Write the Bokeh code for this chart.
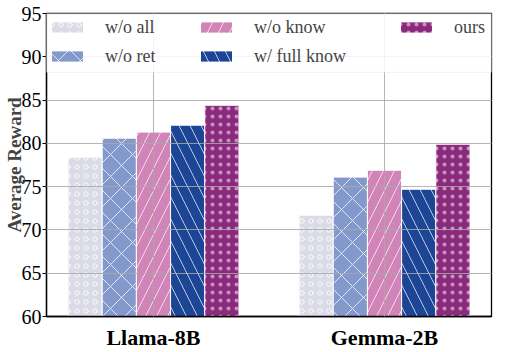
from bokeh.plotting import figure
from bokeh.models import ColumnDataSource, Legend, LegendItem, FixedTicker, BoxAnnotation
from bokeh.embed import file_html
from bokeh.resources import INLINE

categories = ["Llama-8B", "Gemma-2B"]
series = ["w/o all", "w/o ret", "w/o know", "w/ full know", "ours"]
wo_all = [78.4, 71.7]
wo_ret = [80.6, 76.1]
wo_know = [81.3, 76.9]
w_full_know = [82.1, 74.7]
ours = [84.4, 79.9]
y_ticks = [60, 65, 70, 75, 80, 85, 90, 95]

values = [wo_all, wo_ret, wo_know, w_full_know, ours]
colors = ["#dadbe7", "#8399cb", "#d184b8", "#1d4596", "#8b2a7d"]
hatches = ["ring", "diagonal_cross", "right_diagonal_line", "left_diagonal_line", "dot"]
hscales = [9, 22, 22, 22, 8]
halpha = [0.8, 0.75, 0.7, 0.7, 0.5]

FONT = "Liberation Serif"
p = figure(width=518, height=352, output_backend="svg", toolbar_location=None,
           x_range=(-0.463, 1.463), y_range=(60, 95),
           min_border_left=46, min_border_right=27, min_border_top=13, min_border_bottom=31)

bw = 0.148
renderers = []
for i, (name, vals) in enumerate(zip(series, values)):
    xs = [g + (i - 2) * bw for g in range(len(categories))]
    src = ColumnDataSource(dict(x=xs, top=vals))
    r = p.vbar(x="x", top="top", bottom=60, width=bw, source=src,
               fill_color=colors[i], line_color="white", line_width=1,
               hatch_pattern=hatches[i], hatch_color="white", hatch_alpha=halpha[i],
               hatch_scale=hscales[i], hatch_weight=1)
    renderers.append(r)

# grid drawn over the bars, under the legend
for g in (p.xgrid, p.ygrid):
    g.level = "guide"
    g.grid_line_color = "#a8a8a8"
    g.grid_line_alpha = 0.85
    g.grid_line_width = 1
p.xaxis.ticker = FixedTicker(ticks=[0, 1])
p.xaxis.major_label_overrides = {0: categories[0], 1: categories[1]}
p.xgrid.ticker = FixedTicker(ticks=[0, 1])
p.yaxis.ticker = FixedTicker(ticks=y_ticks)
p.ygrid.ticker = FixedTicker(ticks=y_ticks)

p.xaxis.major_label_text_font = FONT
p.xaxis.major_label_text_font_style = "bold"
p.xaxis.major_label_text_font_size = "22px"
p.xaxis.major_label_text_color = "black"
p.xaxis.major_tick_line_color = None
p.xaxis.minor_tick_line_color = None
p.xaxis.major_label_standoff = 2
p.xaxis.axis_line_color = "black"
p.xaxis.axis_line_width = 1.3

p.yaxis.major_label_text_font = FONT
p.yaxis.major_label_text_font_size = "20px"
p.yaxis.major_label_text_color = "black"
p.yaxis.minor_tick_line_color = None
p.yaxis.major_tick_in = 0
p.yaxis.major_tick_out = 4
p.yaxis.major_label_standoff = 1
p.yaxis.axis_line_color = "black"
p.yaxis.axis_line_width = 1.3
p.yaxis.axis_label = "Average Reward"
p.yaxis.axis_label_text_font = FONT
p.yaxis.axis_label_text_font_style = "bold"
p.yaxis.axis_label_text_font_size = "19px"
p.yaxis.axis_label_standoff = -6

p.outline_line_color = "black"
p.outline_line_width = 1.3
p.background_fill_color = "white"
p.border_fill_color = "white"

# legend frame
box = BoxAnnotation(left=-0.489, right=1.489, top=95.12, bottom=88.2,
                    fill_color="white", fill_alpha=0.85,
                    line_color="#cfcfcf", line_width=1, border_radius=4)
p.add_layout(box)

cols = [[0, 1], [2, 3], [4]]
col_x = [1, 150, 350]
for ci, idxs in enumerate(cols):
    items = [LegendItem(label=series[k], renderers=[renderers[k]]) for k in idxs]
    n = len(idxs)
    bottom_px = 8.5 + n * 21 + (n - 1) * 8
    lg = Legend(items=items, location=(col_x[ci], 308 - bottom_px),
                label_text_font=FONT, label_text_font_size="18px",
                glyph_width=40, glyph_height=14, label_standoff=18,
                spacing=8, padding=0, margin=0,
                border_line_color=None, background_fill_alpha=0)
    p.add_layout(lg, "center")

open("out.html", "w").write(file_html(p, INLINE))
